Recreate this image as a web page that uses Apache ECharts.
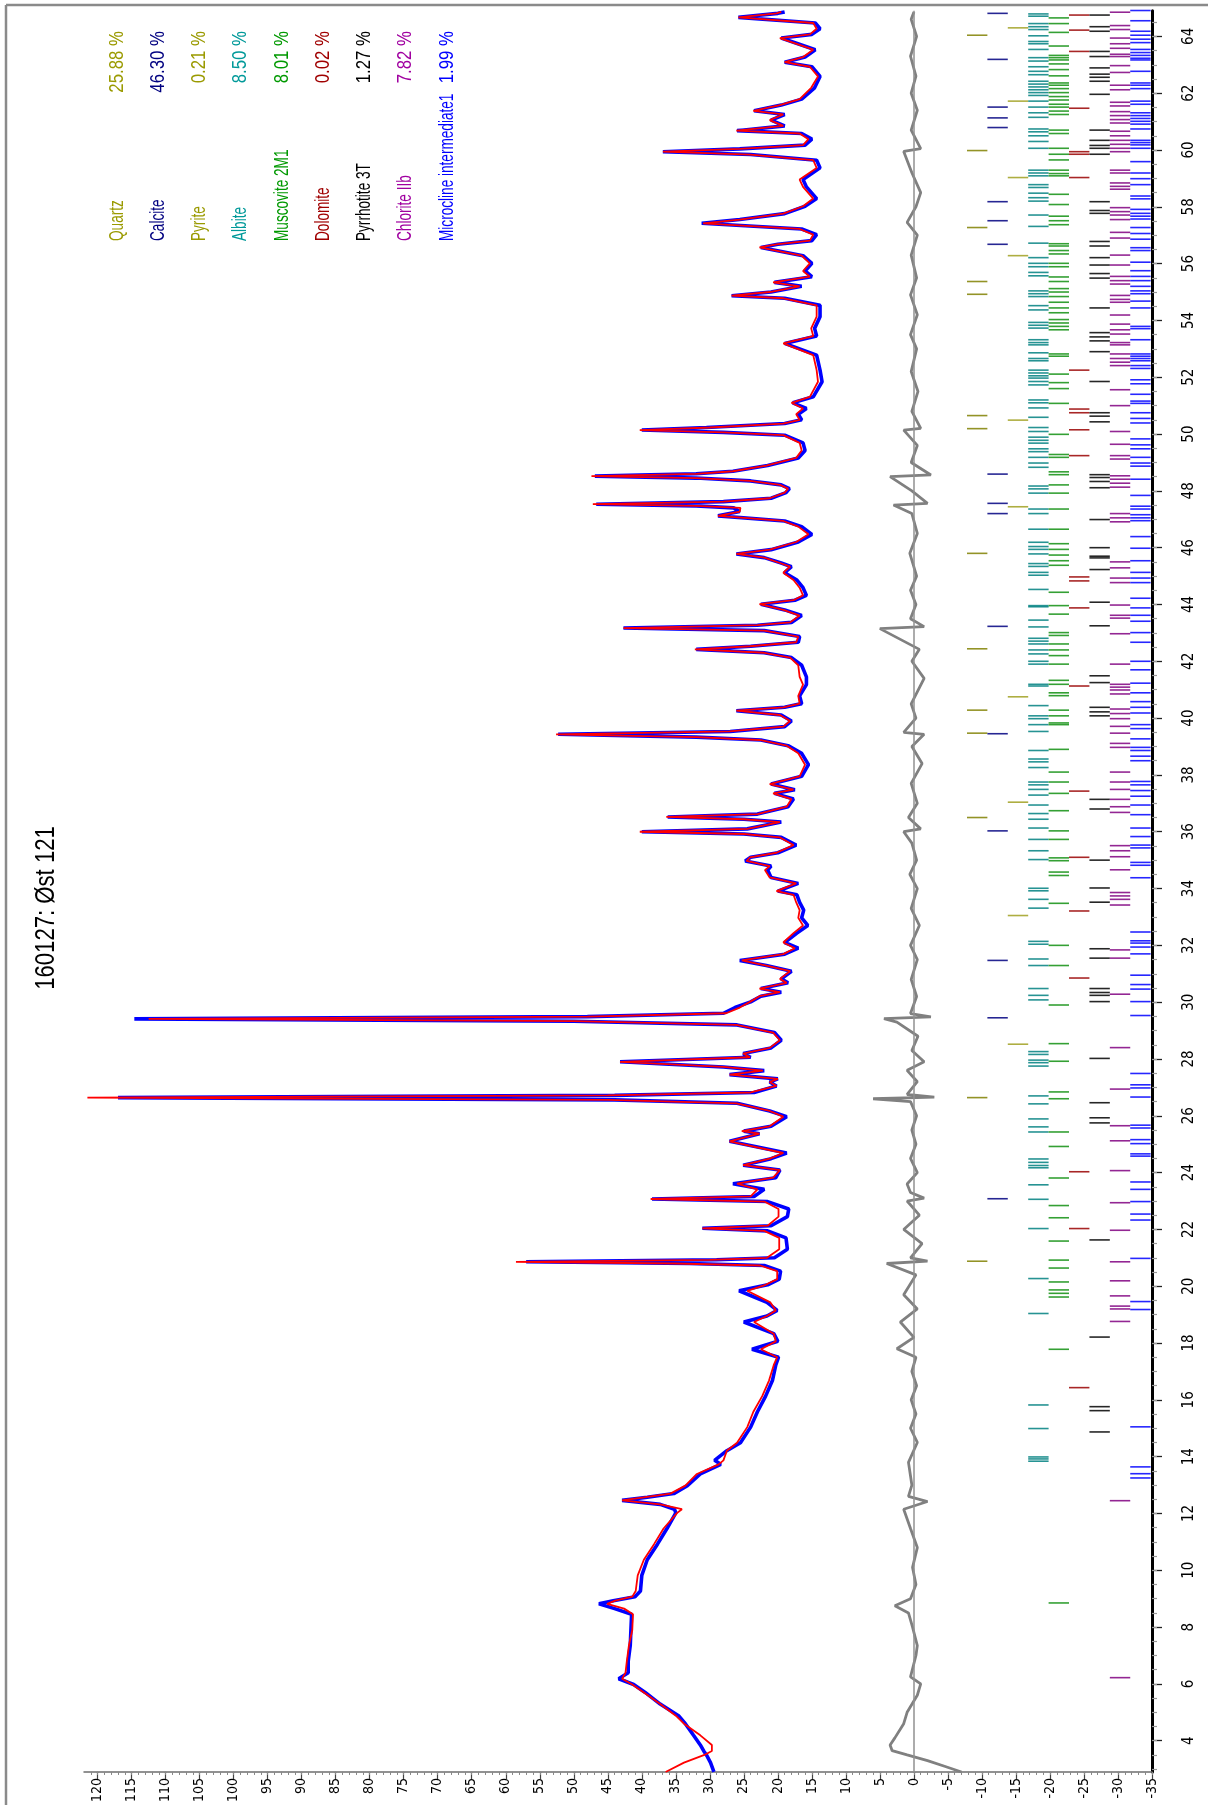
<!DOCTYPE html>
<html><head><meta charset="utf-8">
<script src="https://cdn.jsdelivr.net/npm/echarts@6/dist/echarts.min.js"></script>
<style>html,body{margin:0;padding:0;background:#fff}#c{width:1208px;height:1805px}</style>
</head><body><div id="c"></div>
<script>
// ---- tick labels ----
const intensityTicks = [-35,-30,-25,-20,-15,-10,-5,0,5,10,15,20,25,30,35,40,45,50,55,60,65,70,75,80,85,90,95,100,105,110,115,120];
const intensityMinor = [];
for (let v = -35; v <= 121; v++) intensityMinor.push(v);
const thetaTicks = [4,6,8,10,12,14,16,18,20,22,24,26,28,30,32,34,36,38,40,42,44,46,48,50,52,54,56,58,60,62,64];
const thetaMinor = [];
for (let t = 3; t <= 64.5; t += 0.5) thetaMinor.push(t);

// ---- calculated pattern [2theta, intensity] ----
const calcCurve = [[2.90,36.5],[3.23,33.8],[3.50,30.8],[3.64,29.7],[3.85,29.7],[4.19,31.4],[4.60,33.8],[4.88,35.0],[5.29,37.3],[5.70,39.7],[5.98,41.4],[6.18,42.9],[6.39,42.4],[6.80,42.2],[7.35,41.9],[7.90,41.4],[8.45,41.3],[8.65,42.6],[8.82,45.1],[8.93,43.9],[9.07,41.4],[9.27,40.9],[9.82,40.6],[10.37,39.7],[10.92,38.2],[11.47,36.8],[12.02,34.8],[12.15,34.1],[12.32,37.3],[12.46,42.9],[12.57,39.7],[12.70,35.8],[12.98,33.6],[13.39,31.9],[13.73,28.7],[13.87,28.0],[14.21,27.5],[14.49,26.0],[15.04,24.5],[15.58,23.6],[16.13,22.3],[16.68,21.3],[17.23,20.6],[17.50,20.1],[17.78,22.5],[18.06,20.3],[18.33,20.6],[18.74,23.5],[18.95,21.6],[19.15,20.3],[19.43,21.1],[19.84,24.5],[20.05,21.8],[20.25,20.1],[20.53,20.1],[20.73,22.6],[20.80,35.0],[20.86,58.5],[20.93,30.0],[21.00,21.6],[21.30,19.8],[21.70,19.8],[21.95,22.0],[22.04,31.1],[22.13,21.5],[22.45,19.9],[22.72,19.9],[22.98,22.0],[23.07,38.7],[23.16,24.0],[23.41,23.0],[23.61,26.0],[23.82,20.7],[24.09,19.7],[24.26,25.1],[24.49,21.2],[24.69,19.2],[25.10,27.1],[25.37,22.7],[25.46,25.3],[25.63,21.2],[25.97,19.2],[26.17,21.2],[26.44,26.1],[26.56,45.0],[26.64,121.5],[26.72,45.0],[26.82,24.0],[27.05,20.2],[27.19,21.2],[27.30,20.0],[27.45,27.1],[27.59,22.2],[27.72,28.0],[27.90,43.2],[28.06,24.1],[28.19,25.1],[28.39,21.2],[28.66,19.7],[28.93,20.7],[29.20,26.1],[29.33,50.0],[29.41,112.5],[29.49,48.0],[29.61,27.6],[29.81,25.6],[30.01,24.1],[30.21,22.7],[30.35,19.7],[30.48,22.7],[30.68,18.7],[30.82,19.7],[31.09,18.2],[31.29,21.7],[31.47,25.3],[31.69,19.2],[31.90,17.5],[32.10,19.2],[32.43,17.7],[32.70,16.3],[32.97,17.0],[33.24,16.8],[33.51,17.3],[33.78,17.7],[33.91,20.2],[34.18,17.3],[34.39,21.2],[34.65,21.9],[34.79,21.2],[34.97,24.6],[35.10,24.1],[35.26,20.2],[35.53,17.7],[35.80,19.7],[35.92,25.0],[36.00,40.3],[36.10,24.5],[36.34,19.7],[36.44,25.0],[36.52,36.4],[36.62,23.0],[36.88,18.7],[37.15,18.0],[37.35,20.7],[37.48,17.7],[37.68,21.2],[37.95,16.8],[38.36,16.0],[38.76,17.0],[39.03,18.7],[39.23,22.7],[39.33,32.0],[39.43,52.6],[39.53,27.1],[39.70,19.2],[39.90,18.2],[40.11,19.7],[40.26,26.1],[40.38,19.2],[40.51,16.8],[40.78,17.0],[41.18,16.3],[41.45,16.8],[41.86,17.0],[42.13,18.2],[42.30,22.0],[42.42,32.2],[42.53,24.1],[42.67,17.3],[42.87,17.0],[43.08,22.0],[43.17,42.7],[43.27,23.0],[43.37,18.2],[43.61,16.8],[43.81,19.2],[44.01,22.7],[44.15,17.7],[44.32,16.3],[44.59,16.8],[44.86,17.7],[45.12,19.2],[45.33,18.2],[45.46,19.7],[45.65,22.0],[45.78,26.1],[45.93,21.2],[46.20,17.3],[46.47,15.5],[46.74,17.0],[46.94,19.2],[47.12,28.8],[47.27,25.6],[47.40,25.5],[47.47,32.0],[47.53,47.2],[47.62,28.0],[47.74,21.2],[47.94,19.0],[48.08,18.5],[48.21,19.7],[48.35,24.1],[48.45,32.0],[48.52,47.4],[48.60,32.0],[48.69,26.6],[48.89,21.7],[49.16,17.3],[49.42,16.5],[49.69,16.8],[49.96,19.2],[50.06,28.0],[50.14,40.3],[50.23,30.0],[50.37,19.2],[50.50,16.8],[50.70,17.3],[50.90,16.3],[51.10,18.0],[51.31,15.3],[51.84,14.1],[52.25,14.3],[52.78,14.8],[53.19,19.2],[53.45,14.8],[53.72,15.1],[54.13,14.3],[54.53,14.3],[54.78,19.2],[54.87,26.8],[55.00,21.2],[55.20,16.8],[55.34,20.7],[55.54,15.3],[55.74,16.3],[56.01,15.3],[56.28,16.5],[56.57,22.7],[56.68,20.2],[56.81,15.3],[57.02,14.8],[57.22,16.8],[57.42,31.0],[57.55,25.6],[57.76,19.2],[58.02,16.3],[58.29,14.8],[58.70,16.3],[58.96,16.8],[59.37,14.3],[59.64,14.8],[59.84,24.1],[59.94,36.9],[60.04,25.6],[60.17,16.3],[60.38,15.5],[60.58,16.8],[60.68,26.1],[60.85,19.2],[61.05,21.2],[61.25,19.2],[61.38,23.6],[61.58,19.7],[61.79,16.8],[62.19,15.1],[62.59,14.1],[62.93,15.3],[63.09,19.0],[63.27,16.3],[63.53,14.8],[63.94,19.7],[64.07,15.3],[64.27,14.3],[64.47,14.8],[64.67,25.8],[64.81,20.2],[64.86,19.5]];

// ---- observed pattern [2theta, intensity] ----
const obsCurve = [[2.90,29.4],[3.23,29.9],[3.50,30.5],[3.64,30.9],[3.85,31.4],[4.19,32.4],[4.60,33.6],[4.88,34.6],[5.29,37.3],[5.70,39.5],[5.98,41.2],[6.18,43.4],[6.39,42.0],[6.80,42.0],[7.35,41.7],[7.90,41.6],[8.45,41.5],[8.65,44.0],[8.82,46.3],[8.93,44.2],[9.07,41.0],[9.27,40.2],[9.82,40.0],[10.37,39.2],[10.92,37.7],[11.47,36.3],[12.02,35.0],[12.15,35.2],[12.32,37.3],[12.46,42.9],[12.57,39.2],[12.70,35.3],[12.98,33.3],[13.39,31.4],[13.73,28.4],[13.87,29.3],[14.21,27.5],[14.49,25.5],[15.04,24.0],[15.58,23.0],[16.13,21.8],[16.68,20.8],[17.23,20.3],[17.50,19.9],[17.78,23.8],[18.06,20.0],[18.33,20.6],[18.74,25.0],[18.95,21.6],[19.15,20.1],[19.43,21.6],[19.84,25.7],[20.05,21.5],[20.25,19.8],[20.53,19.6],[20.73,22.0],[20.80,33.0],[20.86,57.0],[20.93,29.0],[21.00,20.5],[21.30,18.6],[21.70,18.8],[21.95,21.5],[22.04,31.1],[22.13,21.0],[22.45,18.6],[22.72,18.4],[22.98,21.5],[23.07,38.5],[23.16,23.5],[23.41,22.0],[23.61,26.6],[23.82,20.3],[24.09,19.7],[24.26,25.1],[24.49,21.0],[24.69,18.7],[25.10,27.1],[25.37,22.7],[25.46,25.0],[25.63,21.0],[25.97,18.7],[26.17,21.2],[26.44,26.0],[26.56,44.0],[26.64,117.0],[26.72,44.0],[26.82,23.5],[27.05,20.2],[27.19,21.2],[27.30,20.0],[27.45,27.1],[27.59,22.0],[27.72,28.0],[27.90,43.2],[28.06,24.0],[28.19,25.1],[28.39,21.0],[28.66,19.5],[28.93,20.5],[29.20,26.0],[29.33,50.0],[29.41,114.6],[29.49,48.0],[29.61,28.0],[29.81,26.3],[30.01,24.0],[30.21,22.5],[30.35,19.5],[30.48,22.5],[30.68,18.5],[30.82,19.5],[31.09,18.0],[31.29,21.7],[31.47,25.6],[31.69,19.0],[31.90,17.0],[32.10,19.0],[32.43,17.2],[32.70,15.6],[32.97,16.5],[33.24,16.2],[33.51,16.8],[33.78,17.2],[33.91,20.0],[34.18,17.0],[34.39,21.0],[34.65,21.5],[34.79,21.0],[34.97,24.8],[35.10,24.0],[35.26,20.0],[35.53,17.3],[35.80,19.5],[35.92,25.0],[36.00,40.0],[36.10,24.5],[36.34,19.5],[36.44,25.0],[36.52,36.2],[36.62,23.0],[36.88,18.5],[37.15,17.7],[37.35,20.5],[37.48,17.5],[37.68,21.0],[37.95,16.5],[38.36,15.5],[38.76,16.5],[39.03,18.5],[39.23,22.5],[39.33,32.0],[39.43,52.3],[39.53,27.0],[39.70,19.0],[39.90,18.0],[40.11,19.5],[40.26,26.1],[40.38,19.0],[40.51,16.5],[40.78,16.8],[41.18,15.8],[41.45,15.8],[41.86,16.5],[42.13,18.0],[42.30,22.0],[42.42,32.0],[42.53,24.0],[42.67,17.0],[42.87,16.8],[43.08,22.0],[43.17,42.7],[43.27,23.0],[43.37,18.0],[43.61,16.5],[43.81,19.0],[44.01,22.5],[44.15,17.5],[44.32,15.8],[44.59,16.3],[44.86,17.2],[45.12,19.0],[45.33,18.0],[45.46,19.5],[45.65,22.0],[45.78,26.1],[45.93,21.0],[46.20,17.0],[46.47,15.0],[46.74,16.5],[46.94,19.0],[47.12,28.8],[47.27,25.6],[47.40,26.5],[47.47,32.0],[47.53,46.7],[47.62,28.0],[47.74,21.0],[47.94,18.8],[48.08,18.3],[48.21,19.5],[48.35,24.0],[48.45,32.0],[48.52,46.9],[48.60,32.0],[48.69,26.6],[48.89,21.5],[49.16,17.0],[49.42,16.0],[49.69,16.3],[49.96,19.0],[50.06,28.0],[50.14,40.0],[50.23,30.5],[50.37,19.0],[50.50,16.5],[50.70,17.0],[50.90,15.8],[51.10,17.8],[51.31,14.8],[51.84,13.5],[52.25,13.8],[52.78,14.3],[53.19,19.0],[53.45,14.3],[53.72,14.6],[54.13,13.8],[54.53,13.8],[54.78,19.0],[54.87,26.8],[55.00,21.0],[55.20,16.5],[55.34,20.5],[55.54,15.0],[55.74,16.0],[56.01,15.0],[56.28,16.3],[56.57,22.5],[56.68,20.0],[56.81,15.0],[57.02,14.3],[57.22,16.5],[57.42,31.2],[57.55,25.6],[57.76,19.0],[58.02,16.0],[58.29,14.3],[58.70,15.8],[58.96,16.3],[59.37,13.8],[59.64,14.3],[59.84,24.0],[59.94,36.9],[60.04,25.6],[60.17,16.0],[60.38,15.0],[60.58,16.5],[60.68,26.0],[60.85,19.0],[61.05,21.0],[61.25,19.0],[61.38,23.5],[61.58,19.5],[61.79,16.5],[62.19,14.6],[62.59,13.8],[62.93,15.0],[63.09,19.0],[63.27,16.0],[63.53,14.5],[63.94,19.5],[64.07,15.0],[64.27,13.8],[64.47,14.5],[64.67,25.8],[64.81,20.0],[64.86,19.0]];

// ---- difference curve [2theta, obs-calc] ----
const diffCurve = [[2.90,-7.0],[3.10,-4.5],[3.30,-2.0],[3.50,1.0],[3.65,3.2],[3.85,3.5],[4.10,2.8],[4.60,1.5],[5.00,1.0],[5.60,-0.5],[6.00,-1.0],[6.25,0.5],[7.00,-0.3],[7.35,-0.5],[8.00,0.2],[8.50,0.8],[8.75,2.8],[9.00,0.5],[9.50,-0.3],[10.10,0.2],[10.80,-0.5],[11.47,0.5],[12.15,1.5],[12.42,-2.0],[12.60,0.8],[13.00,0.3],[13.80,0.8],[14.50,-0.5],[15.00,0.5],[15.50,-0.3],[16.00,0.4],[16.50,-0.4],[17.00,0.3],[17.50,-0.3],[17.80,2.5],[18.20,0.0],[18.74,2.0],[19.20,-0.5],[19.70,1.5],[20.40,-0.3],[20.80,4.0],[20.88,-2.0],[21.00,0.5],[21.50,-1.2],[22.00,1.5],[22.50,-0.8],[23.00,1.0],[23.10,-1.5],[23.30,0.5],[23.60,1.0],[24.00,-0.5],[24.50,0.5],[25.00,-0.3],[25.50,0.3],[26.00,-0.4],[26.50,0.5],[26.60,6.0],[26.66,-3.0],[26.75,1.0],[27.20,-0.5],[27.60,1.0],[27.90,-1.5],[28.30,0.3],[28.80,-0.6],[29.30,2.5],[29.42,4.4],[29.48,-2.5],[29.60,0.5],[30.20,-0.4],[30.80,0.4],[31.50,-0.5],[32.00,0.5],[32.70,-0.8],[33.30,0.4],[34.00,-0.5],[34.50,0.6],[35.00,-0.4],[35.60,0.3],[36.00,1.5],[36.10,-1.0],[36.50,0.8],[37.00,-0.5],[37.70,0.4],[38.40,-1.2],[39.00,0.3],[39.43,-1.5],[39.50,1.5],[40.00,-0.3],[40.50,0.4],[41.40,-1.5],[42.00,0.3],[42.42,-0.8],[43.15,5.0],[43.22,-1.5],[43.50,0.5],[44.00,-0.3],[44.50,0.5],[45.00,-0.4],[45.80,0.6],[46.50,-0.5],[47.20,0.3],[47.50,3.0],[47.56,-2.0],[48.00,0.3],[48.50,3.5],[48.56,-2.5],[49.00,0.4],[49.60,-0.5],[50.14,1.5],[50.20,-1.0],[50.80,0.3],[51.50,-0.6],[52.20,0.4],[53.00,-0.4],[53.50,0.5],[54.20,-0.5],[54.90,0.5],[55.50,-0.4],[56.30,0.4],[57.00,-0.5],[57.45,1.0],[58.00,-0.3],[58.50,-1.0],[59.20,0.3],[59.95,1.5],[60.05,-1.0],[60.70,0.4],[61.40,-0.5],[62.00,0.4],[62.60,-0.3],[63.30,0.5],[64.00,-0.4],[64.60,0.4],[64.86,0.0]];

// ---- phase reflection positions (2theta) ----
const quartzPos = [20.88,26.64,36.50,39.47,40.28,42.44,45.80,50.19,50.65,54.92,55.37,57.27,59.98,64.04];
const calcitePos = [23.08,29.45,31.47,36.03,39.45,43.23,47.20,47.56,48.59,56.68,57.51,58.18,60.79,61.13,61.51,63.19,64.81];
const pyritePos = [28.52,33.05,37.04,40.75,47.44,50.49,56.28,59.03,61.72,64.30];
const albitePos = [13.84,13.92,13.99,14.99,15.82,19.04,20.27,22.03,23.06,23.57,24.17,24.25,24.36,24.48,25.43,25.61,25.89,26.42,26.70,27.75,27.87,27.96,28.16,28.26,30.08,30.24,30.48,31.29,31.52,32.04,32.14,33.31,33.62,33.92,34.01,35.02,35.33,35.73,36.13,36.44,36.64,36.94,37.29,37.49,37.65,37.75,38.26,38.46,38.56,38.86,39.53,39.77,39.98,40.08,40.44,41.13,41.19,41.90,42.00,42.26,42.40,42.61,42.71,42.81,43.21,43.45,43.92,43.96,44.53,45.03,45.13,45.34,45.44,45.78,45.94,46.04,46.19,46.65,47.20,47.36,47.92,48.07,48.17,48.83,48.98,49.18,49.38,49.48,49.68,49.78,49.89,50.09,50.23,50.59,50.92,51.10,51.20,51.73,51.85,51.97,52.05,52.15,52.25,52.58,52.66,52.86,53.14,53.22,53.32,53.73,53.83,53.93,54.37,54.52,54.84,54.94,55.04,55.57,55.69,55.89,56.01,56.21,56.72,57.31,57.71,58.20,58.32,58.48,58.68,58.78,59.09,59.19,59.29,60.06,60.30,60.50,60.64,60.74,61.15,61.31,61.51,61.72,61.92,62.02,62.12,62.22,62.32,62.42,62.65,62.77,62.93,63.13,63.25,63.54,63.74,63.82,64.02,64.24,64.34,64.45,64.71,64.79];
const muscovitePos = [8.85,17.78,19.62,19.75,19.87,20.15,20.64,20.92,21.59,22.41,22.84,23.81,24.92,25.43,26.60,26.84,27.92,28.54,29.90,31.29,32.00,33.48,34.46,34.58,34.98,35.08,35.73,36.03,36.74,37.35,37.75,38.10,38.90,39.77,39.83,40.08,40.28,40.79,40.89,41.19,41.33,41.90,42.20,42.40,42.61,42.91,43.01,43.66,43.96,44.43,45.38,45.54,45.74,45.94,46.14,46.65,47.36,47.92,48.21,48.57,48.67,49.18,49.28,49.99,51.08,51.60,51.81,52.11,52.74,52.82,53.67,53.79,53.91,54.03,54.27,54.44,54.64,54.84,55.00,55.12,55.37,55.53,55.89,56.01,56.34,56.46,56.62,56.70,57.37,57.51,57.67,58.08,58.44,59.09,59.17,59.29,59.65,59.85,60.06,60.58,60.70,61.25,61.37,61.51,61.61,61.76,61.88,62.02,62.16,62.28,62.36,62.61,62.83,63.03,63.17,63.25,63.33,63.66,64.14,64.45,64.65];
const dolomitePos = [16.43,22.03,24.03,30.85,33.21,35.10,37.43,41.13,43.88,44.83,44.97,49.24,50.15,50.75,50.88,52.25,59.03,59.85,59.94,61.47,63.47,64.22,64.75];
const pyrrhotitePos = [14.87,15.62,15.76,18.21,21.63,25.75,25.93,26.46,28.02,30.02,30.24,30.34,30.48,31.55,31.88,33.52,34.02,35.00,36.80,37.14,40.08,40.22,40.38,41.25,41.49,43.25,44.08,45.23,45.64,45.70,46.00,46.99,48.11,48.33,48.47,48.57,50.43,50.63,50.75,51.85,52.90,53.28,53.42,53.57,54.44,55.49,55.65,55.95,56.21,56.62,56.78,57.77,57.87,58.18,59.85,60.06,60.16,60.34,60.70,61.96,62.42,62.56,62.67,62.89,63.29,63.47,64.18,64.34,64.75];
const chloritePos = [6.22,12.45,18.76,19.20,19.30,19.66,20.19,20.86,21.97,22.94,24.07,25.12,25.65,26.94,28.40,30.28,31.55,31.84,33.42,33.62,33.74,33.86,34.66,35.12,35.33,35.51,36.68,36.88,37.14,37.49,37.75,38.10,38.97,39.11,39.47,39.71,39.98,40.16,40.32,40.85,40.99,41.09,41.19,41.90,42.97,43.52,43.62,43.98,44.77,44.93,45.29,45.50,46.91,47.05,47.20,48.13,48.27,48.41,48.53,49.12,49.24,49.64,50.09,51.00,51.56,52.41,52.53,52.66,52.82,53.14,53.22,53.52,53.67,53.87,54.19,54.64,54.74,54.88,55.28,55.40,55.55,55.95,56.30,56.90,57.10,57.55,57.71,57.83,57.97,58.62,58.72,58.84,59.19,59.29,59.94,60.06,60.20,60.34,60.50,60.66,60.95,61.07,61.21,61.35,61.55,61.68,62.12,62.28,62.73,62.97,63.29,63.37,63.58,63.74,63.94,64.24,64.38,64.85];
const microclinePos = [13.25,13.40,13.64,15.05,19.18,19.46,20.98,22.33,22.54,22.98,23.41,23.67,24.58,24.66,25.02,25.16,25.57,25.67,26.66,26.98,27.09,27.49,29.53,30.02,30.46,30.62,30.95,31.70,31.94,32.08,32.16,32.47,34.38,34.82,34.92,35.43,35.53,35.83,36.13,36.60,36.94,37.25,37.45,37.65,37.77,38.50,38.66,38.86,38.97,39.27,39.63,39.77,40.18,40.38,40.58,40.89,41.23,41.70,42.00,42.67,43.01,43.41,43.62,43.88,44.22,44.77,44.93,45.13,45.54,45.98,46.39,46.95,47.05,47.16,47.36,47.46,47.84,48.41,48.87,48.98,49.18,49.48,49.62,49.83,50.39,50.55,50.75,51.08,51.16,51.40,51.77,51.91,52.31,52.41,52.58,52.66,52.74,52.82,53.32,53.71,53.79,54.44,54.68,54.94,55.04,55.20,55.40,55.55,55.75,56.05,56.46,56.56,56.86,57.06,57.27,57.57,57.67,57.77,57.91,58.28,58.38,58.78,58.99,59.19,59.59,60.06,60.18,60.26,60.34,60.74,60.91,61.01,61.11,61.21,61.31,61.61,61.72,62.16,62.28,62.36,62.77,63.17,63.23,63.33,63.43,63.54,63.78,63.90,64.04,64.18,64.55,64.91];

// ---- legend ----
const phaseNames = ['Quartz','Calcite','Pyrite','Albite','Muscovite 2M1','Dolomite','Pyrrhotite 3T','Chlorite IIb','Microcline intermediate1'];
const phasePercent = ['25.88 %','46.30 %','0.21 %','8.50 %','8.01 %','0.02 %','1.27 %','7.82 %','1.99 %'];
const titleText = '160127: Øst 121';

// ---- styling / layout ----
const phasePositions = [quartzPos, calcitePos, pyritePos, albitePos, muscovitePos, dolomitePos, pyrrhotitePos, chloritePos, microclinePos];
const textColors = ['#9a9a00','#000080','#9a9a00','#009999','#009900','#a00000','#000000','#a000a0','#0000ff'];
const tickColors = ['#808000','#000080','#a0a020','#008080','#108f10','#990000','#000000','#800080','#0000ff'];
const rowStart = -7.8, rowWidth = 3.0;
const NARROW = "'Liberation Sans Narrow','Arial Narrow','DejaVu Sans Condensed','Liberation Sans',sans-serif";

function tickSeries(pos, i) {
  const top = rowStart - rowWidth * i, bottom = top - rowWidth;
  return {
    type: 'custom', silent: true, clip: false, z: 3,
    data: pos.map(t => [top, t, bottom]),
    encode: { x: [0, 2], y: 1 },
    renderItem: (params, api) => {
      const a = api.coord([api.value(0), api.value(1)]);
      const b = api.coord([api.value(2), api.value(1)]);
      return { type: 'line', shape: { x1: a[0], y1: a[1], x2: b[0], y2: b[1] },
        style: { stroke: tickColors[i], lineWidth: 1.6, opacity: 0.85 } };
    }
  };
}

const chart = echarts.init(document.getElementById('c'), null, { renderer: 'canvas' });
const graphic = [
  { type: 'line', shape: { x1: 6, y1: 5, x2: 1208, y2: 5 }, style: { stroke: '#8a8a8a', lineWidth: 2.5 } },
  { type: 'line', shape: { x1: 6, y1: 5, x2: 6, y2: 1805 }, style: { stroke: '#8a8a8a', lineWidth: 2.5 } },
  { type: 'text', x: 47, y: 908, rotation: Math.PI / 2, scaleX: 0.82,
    style: { text: titleText, fill: '#000', fontSize: 27, fontFamily: 'Liberation Sans',
      align: 'center', verticalAlign: 'middle', textAlign: 'center', textVerticalAlign: 'middle' } }
];
phaseNames.forEach((n, i) => {
  const x = 117 + 41.25 * i;
  graphic.push({ type: 'text', x: x, y: 241, rotation: Math.PI / 2, scaleX: 0.68,
    style: { text: n, fill: textColors[i], fontSize: 20, fontFamily: 'Liberation Sans',
      align: 'left', verticalAlign: 'middle', textAlign: 'left', textVerticalAlign: 'middle' } });
  graphic.push({ type: 'text', x: x, y: 31, rotation: Math.PI / 2, scaleX: 0.84,
    style: { text: phasePercent[i], fill: textColors[i], fontSize: 20, fontFamily: 'Liberation Sans',
      align: 'right', verticalAlign: 'middle', textAlign: 'right', textVerticalAlign: 'middle' } });
});

const option = {
  animation: false,
  backgroundColor: '#fff',
  grid: { left: 84, right: 56, top: 10.8, bottom: 29.7, containLabel: false },
  xAxis: [
    { type: 'value', min: -35, max: 122, inverse: true, position: 'bottom',
      axisLine: { show: true, onZero: false, lineStyle: { color: '#6e6e6e', width: 1.5 } },
      axisTick: { show: true, customValues: intensityTicks, length: 7, lineStyle: { color: '#444', width: 1.2 } },
      axisLabel: { show: true, customValues: intensityTicks, rotate: 90, margin: 6, color: '#000', fontSize: 14, fontFamily: NARROW },
      splitLine: { show: false } },
    { type: 'value', min: -35, max: 122, inverse: true, position: 'bottom',
      axisLine: { show: false, onZero: false },
      axisTick: { show: true, customValues: intensityMinor, length: 3, lineStyle: { color: '#888', width: 1 } },
      axisLabel: { show: false }, splitLine: { show: false } }
  ],
  yAxis: [
    { type: 'value', min: 2.9, max: 64.9, position: 'right',
      axisLine: { show: true, onZero: false, lineStyle: { color: '#000', width: 3 } },
      axisTick: { show: true, customValues: thetaTicks, length: 10, lineStyle: { color: '#222', width: 1.3 } },
      axisLabel: { show: true, customValues: thetaTicks, rotate: 90, margin: 30, color: '#000', fontSize: 15, fontFamily: NARROW },
      splitLine: { show: false } },
    { type: 'value', min: 2.9, max: 64.9, position: 'right',
      axisLine: { show: false, onZero: false },
      axisTick: { show: true, customValues: thetaMinor, length: 5, lineStyle: { color: '#999', width: 1.2 } },
      axisLabel: { show: false }, splitLine: { show: false } }
  ],
  graphic: graphic,
  series: [
    { name: 'diff', type: 'line', data: diffCurve.map(p => [p[1], p[0]]), showSymbol: false, z: 2,
      lineStyle: { color: '#808080', width: 2.8 },
      markLine: { silent: true, symbol: 'none', label: { show: false },
        lineStyle: { color: '#909090', width: 1.5, type: 'solid' }, data: [{ xAxis: 0 }] } },
    { name: 'obs', type: 'line', data: obsCurve.map(p => [p[1], p[0]]), showSymbol: false, z: 4,
      lineStyle: { color: '#0000ff', width: 3.6 } },
    { name: 'calc', type: 'line', data: calcCurve.map(p => [p[1], p[0]]), showSymbol: false, z: 5,
      lineStyle: { color: '#ff0000', width: 1.8 } },
    ...phasePositions.map((p, i) => tickSeries(p, i))
  ]
};
chart.setOption(option);
</script>
</body></html>
